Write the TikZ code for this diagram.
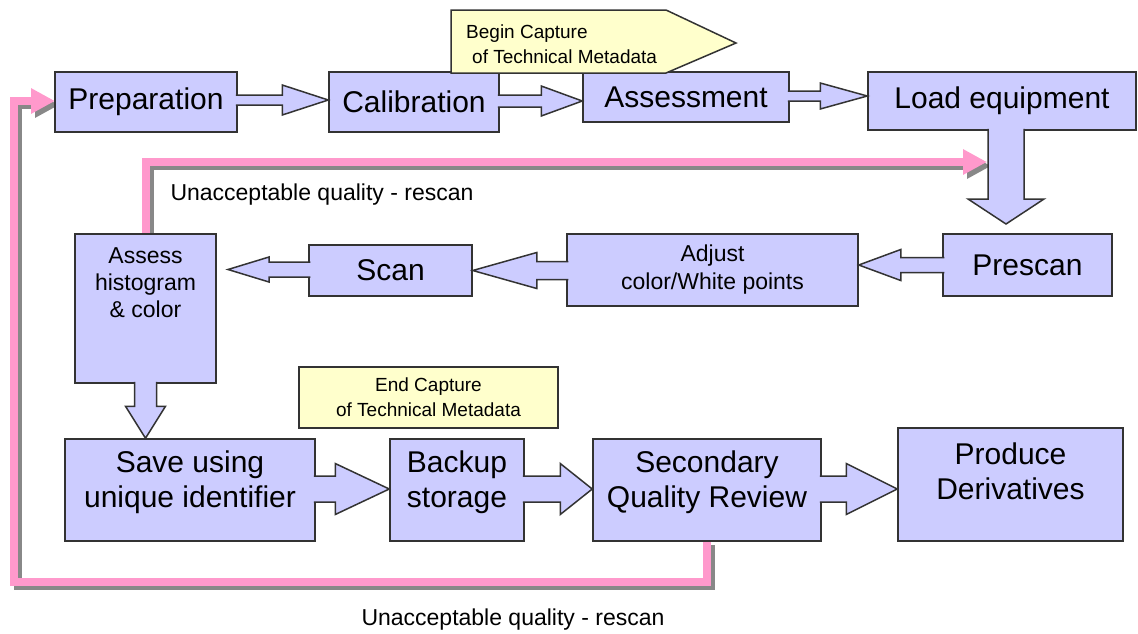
\documentclass[tikz,border=0pt]{standalone}
\usepackage{fontspec}
\setmainfont{Liberation Sans}
\usetikzlibrary{arrows.meta,calc}
\definecolor{boxfill}{HTML}{CCCCFF}
\definecolor{boxline}{HTML}{333333}
\definecolor{notefill}{HTML}{FFFFCC}
\definecolor{loopink}{HTML}{FF99CC}
\definecolor{loopshadow}{HTML}{888888}
\tikzset{
  box/.style={draw=boxline, fill=boxfill, line width=1.5pt, inner sep=0pt, font=\fontsize{30}{35}\selectfont, align=center},
  boxsmall/.style={box, font=\fontsize{23}{28}\selectfont},
  btext/.style={inner sep=0pt, font=\fontsize{30}{35}\selectfont, align=center},
  stext/.style={inner sep=0pt, font=\fontsize{23}{27}\selectfont, align=center},
  note/.style={draw=boxline, fill=notefill, line width=1.5pt, inner sep=0pt, font=\fontsize{19}{25}\selectfont, align=center},
  notetext/.style={inner sep=0pt, font=\fontsize{19}{25}\selectfont, align=left},
  blkfill/.style={fill=boxfill},
  blkline/.style={draw=boxline, line width=1.5pt, line join=miter},
  rescan/.style={line width=8pt, draw=loopink, -{Triangle[length=24pt,width=24pt]}},
  rescanshadow/.style={line width=8pt, draw=loopshadow, -{Triangle[length=24pt,width=24pt]}, transform canvas={shift={(4,4)}}},
}
% horizontal block arrow: #1 start, #2 tip, #3 shaft half, #4 head half, #5 head length (signed)
\newcommand{\harrow}[5]{%
  \path[blkfill] let \p1=(#1), \p2=(#2), \n1={\x2-(#5)} in
    (\x1,\y2+#3) -- (\n1,\y2+#3) -- (\n1,\y2+#4) -- (\x2,\y2) -- (\n1,\y2-#4) -- (\n1,\y2-#3) -- (\x1,\y2-#3) -- cycle;
  \draw[blkline] let \p1=(#1), \p2=(#2), \n1={\x2-(#5)} in
    (\x1,\y2+#3) -- (\n1,\y2+#3) -- (\n1,\y2+#4) -- (\x2,\y2) -- (\n1,\y2-#4) -- (\n1,\y2-#3) -- (\x1,\y2-#3);
}
% vertical (downward) block arrow
\newcommand{\varrow}[5]{%
  \path[blkfill] let \p1=(#1), \p2=(#2) in
    (\x2+#3,\y1) -- (\x2+#3,\y2+#5) -- (\x2+#4,\y2+#5) -- (\x2,\y2) -- (\x2-#4,\y2+#5) -- (\x2-#3,\y2+#5) -- (\x2-#3,\y1) -- cycle;
  \draw[blkline] let \p1=(#1), \p2=(#2) in
    (\x2+#3,\y1) -- (\x2+#3,\y2+#5) -- (\x2+#4,\y2+#5) -- (\x2,\y2) -- (\x2-#4,\y2+#5) -- (\x2-#3,\y2+#5) -- (\x2-#3,\y1);
}
\begin{document}
\begin{tikzpicture}[x=1pt,y=-1pt]
\fill[white] (0,0) rectangle (1138,633);
\useasboundingbox (0,0) rectangle (1138,633);

% rescan anchors (box positions)
\path
  coordinate (ahistN) at (145.5,234)
  coordinate (secondS) at (707,541)
  coordinate (rescantip) at (987,162)
  coordinate (preptip) at (55,101);

% rescan loops (behind the boxes)
\draw[rescanshadow] (ahistN) |- (rescantip);
\draw[rescan] (ahistN) |- (rescantip);
\draw[rescanshadow] (secondS) |- (14,582) |- (preptip);
\draw[rescan] (secondS) |- (14,582) |- (preptip);

% boxes
\path
  node[box, minimum width=182, minimum height=60] (prep) at (146,102) {Preparation}
  node[box, minimum width=170, minimum height=60] (calib) at (414,102) {Calibration}
  node[box, minimum width=206, minimum height=50] (assess) at (686,97) {Assessment}
  node[box, minimum width=268, minimum height=58] (load) at (1002,101) {Load equipment}
  node[box, minimum width=169, minimum height=62] (prescan) at (1027.5,265) {Prescan}
  node[boxsmall, minimum width=291, minimum height=72] (adjust) at (712.5,270) {Adjust\\color/White points}
  node[box, minimum width=163, minimum height=51] (scan) at (390.5,270.5) {Scan}
  node[box, minimum width=141, minimum height=149] (ahist) at (145.5,308.5) {}
  node[box, minimum width=250, minimum height=102] (save) at (190,490) {}
  node[box, minimum width=134, minimum height=102] (backup) at (457,490) {}
  node[box, minimum width=228, minimum height=102] (second) at (707,490) {}
  node[box, minimum width=225, minimum height=113] (produce) at (1010.5,484.5) {};

% texts of tall boxes
\node[stext] (ahisttext) at (145.5,283) {Assess\\histogram\\\& color};
\node[btext] (savetext) at (190,482.5) {Save using\\unique identifier};
\node[btext] (backuptext) at (457,482.5) {Backup\\storage};
\node[btext] (secondtext) at (707,482.5) {Secondary\\Quality Review};
\node[btext] (producetext) at (1010.5,471.5) {Produce\\Derivatives};

% block arrows
\coordinate (loadtip) at (1006,224);
\coordinate (histtip) at (228,269.5);
\coordinate (savetip) at (ahist.south |- save.north);
\harrow{$(prep.east)+(-2,0)$}{$(calib.west)+(0,-2)$}{5pt}{15pt}{46pt}
\harrow{$(calib.east)+(-2,0)$}{$(assess.west)+(0,4)$}{6pt}{15pt}{41pt}
\harrow{$(assess.east)+(-2,0)$}{$(load.west)+(0,-5)$}{5pt}{13pt}{47pt}
\varrow{$(load.south)+(0,-2)$}{loadtip}{18pt}{38pt}{25pt}
\harrow{$(prescan.west)+(2,0)$}{$(adjust.east)+(0,-5)$}{7.5pt}{15.5pt}{-42pt}
\harrow{$(adjust.west)+(2,0)$}{scan.east}{9pt}{18pt}{-64pt}
\harrow{$(scan.west)+(2,0)$}{histtip}{7.5pt}{12.5pt}{-41pt}
\varrow{$(ahist.south)+(0,-2)$}{savetip}{11pt}{20pt}{32pt}
\harrow{$(save.east)+(-2,0)$}{$(backup.west)+(0,-1)$}{13pt}{25.5pt}{54pt}
\harrow{$(backup.east)+(-2,0)$}{$(second.west)+(0,-1)$}{13pt}{25.5pt}{32pt}
\harrow{$(second.east)+(-2,0)$}{$(produce.west)+(0,4.5)$}{13pt}{25.5pt}{51pt}

% callouts
\path[draw=boxline, fill=notefill, line width=1.5pt, line join=miter]
  (451,10) -- (666,10) -- (736,43) -- (666,73) -- (451,73) -- cycle;
\node[notetext, anchor=west] (begincap) at (466,44.5) {Begin Capture\\\hspace*{6pt}of Technical Metadata};
\node[note, minimum width=259, minimum height=61] (endcap) at (428.5,397.5) {End Capture\\of Technical Metadata};

% rescan labels
\node[stext] (rescanA) at (322,195) {Unacceptable quality - rescan};
\node[stext] (rescanB) at (513,620) {Unacceptable quality - rescan};
\end{tikzpicture}
\end{document}
